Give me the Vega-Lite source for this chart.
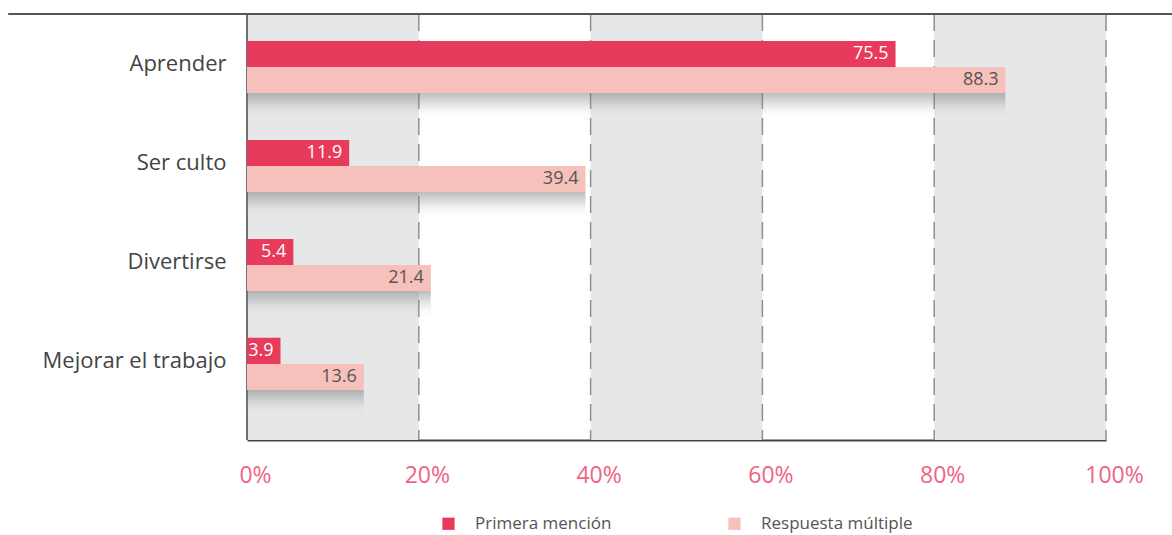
{
  "$schema": "https://vega.github.io/schema/vega-lite/v6.json",
  "width": 859,
  "height": 426,
  "autosize": {"type": "none"},
  "padding": {"left": 247, "top": 14, "right": 66, "bottom": 95},
  "background": "white",
  "config": {"view": {"stroke": null}, "font": "Open Sans"},
  "data": {
    "values": [
      {"motivo": "Aprender", "serie": "Primera mención", "valor": 75.5},
      {"motivo": "Aprender", "serie": "Respuesta múltiple", "valor": 88.3},
      {"motivo": "Ser culto", "serie": "Primera mención", "valor": 11.9},
      {"motivo": "Ser culto", "serie": "Respuesta múltiple", "valor": 39.4},
      {"motivo": "Divertirse", "serie": "Primera mención", "valor": 5.4},
      {"motivo": "Divertirse", "serie": "Respuesta múltiple", "valor": 21.4},
      {"motivo": "Mejorar el trabajo", "serie": "Primera mención", "valor": 3.9},
      {"motivo": "Mejorar el trabajo", "serie": "Respuesta múltiple", "valor": 13.6}
    ]
  },
  "layer": [
    {
      "data": {"values": [{"inicio": 0, "fin": 20}, {"inicio": 40, "fin": 60}, {"inicio": 80, "fin": 100}]},
      "mark": {"type": "rect", "color": "#E6E7E9"},
      "encoding": {
        "x": {"field": "inicio", "type": "quantitative", "scale": {"domain": [0, 100]}},
        "x2": {"field": "fin"}
      }
    },
    {
      "data": {"values": [{"p": 20}, {"p": 40}, {"p": 60}, {"p": 80}, {"p": 100}]},
      "mark": {"type": "rule", "color": "#8f8f8f", "strokeWidth": 1.5, "strokeDash": [17, 9]},
      "encoding": {
        "x": {"field": "p", "type": "quantitative"}
      }
    },
    {
      "data": {"values": [{"p": 0}]},
      "mark": {"type": "rule", "color": "#444444", "strokeWidth": 1.5},
      "encoding": {
        "x": {"field": "p", "type": "quantitative"}
      }
    },
    {
      "data": {"values": [{"a": -27.8, "b": 107.7}]},
      "mark": {"type": "rule", "color": "#555555", "strokeWidth": 2},
      "encoding": {
        "x": {"field": "a", "type": "quantitative"},
        "x2": {"field": "b"},
        "y": {"value": 0}
      }
    },
    {
      "transform": [{"filter": "datum.serie === 'Respuesta múltiple'"}],
      "mark": {
        "type": "bar",
        "fill": {
          "gradient": "linear", "x1": 0, "y1": 0, "x2": 0, "y2": 1,
          "stops": [
            {"offset": 0, "color": "rgba(110,110,110,0.45)"},
            {"offset": 0.3, "color": "rgba(130,130,130,0.32)"},
            {"offset": 0.7, "color": "rgba(180,180,180,0.1)"},
            {"offset": 1, "color": "rgba(220,220,220,0)"}
          ]
        }
      },
      "encoding": {
        "y": {"field": "motivo", "type": "nominal"},
        "yOffset": {"datum": "sombra"},
        "x": {"field": "valor", "type": "quantitative"}
      }
    },
    {
      "mark": {"type": "bar"},
      "encoding": {
        "y": {
          "field": "motivo", "type": "nominal", "sort": null,
          "scale": {"domain": ["Aprender", "Ser culto", "Divertirse", "Mejorar el trabajo"], "range": [27, 402], "paddingInner": 0.21, "paddingOuter": 0},
          "axis": {"title": null, "ticks": false, "domain": false, "labelFontSize": 22, "labelLimit": 400, "labelColor": "#444444", "labelPadding": 21, "labelOffset": -16, "labelFont": "Open Sans"}
        },
        "yOffset": {
          "field": "serie", "type": "nominal",
          "scale": {"domain": ["Primera mención", "Respuesta múltiple", "sombra"], "paddingInner": 0, "paddingOuter": 0}
        },
        "x": {
          "field": "valor", "type": "quantitative",
          "scale": {"domain": [0, 100], "nice": false},
          "axis": {"title": null, "values": [0, 20, 40, 60, 80, 100], "labelExpr": "datum.value + '%'", "grid": false, "ticks": false, "domainColor": "#444444", "domainWidth": 2, "labelColor": "#EE6483", "labelFontSize": 23, "labelPadding": 24, "labelOffset": 8, "labelFlush": false, "labelFont": "Open Sans"}
        },
        "color": {
          "field": "serie", "type": "nominal",
          "scale": {"domain": ["Primera mención", "Respuesta múltiple"], "range": ["#E83A5B", "#F6C0BB"]},
          "legend": {"title": null, "orient": "none", "legendX": 193, "legendY": 501, "direction": "horizontal", "symbolType": "square", "symbolSize": 150, "symbolStrokeWidth": 0, "labelFontSize": 17, "labelColor": "#555555", "labelFont": "Open Sans", "columnPadding": 114, "labelOffset": 18}
        }
      }
    },
    {
      "mark": {"type": "text", "align": "right", "dx": -7, "fontSize": 18, "font": "Open Sans", "baseline": "middle"},
      "encoding": {
        "y": {"field": "motivo", "type": "nominal"},
        "yOffset": {"field": "serie", "type": "nominal"},
        "x": {"field": "valor", "type": "quantitative"},
        "text": {"field": "valor", "type": "quantitative", "format": ".1f"},
        "color": {"condition": {"test": "datum.serie === 'Primera mención'", "value": "#ffffff"}, "value": "#555555"}
      }
    }
  ]
}
